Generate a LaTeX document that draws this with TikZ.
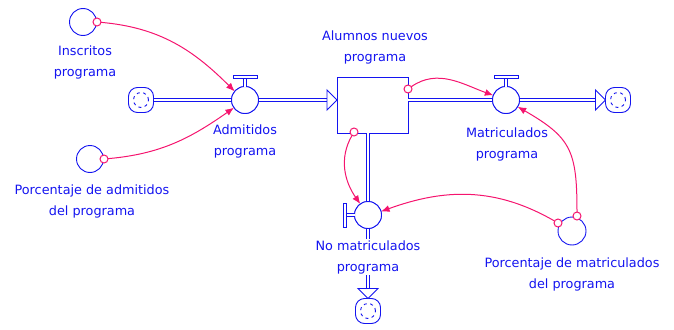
\documentclass[tikz,border=0pt]{standalone}
\usepackage{fontspec}
\setmainfont{DejaVu Sans}
\usetikzlibrary{arrows.meta,calc}
\definecolor{vblue}{RGB}{20,20,240}
\definecolor{vpink}{RGB}{245,20,110}
\begin{document}
\begin{tikzpicture}[x=1pt,y=-1pt,
 every node/.style={inner sep=0pt, outer sep=0pt},
 aux/.style={circle, draw=vblue, line width=0.9pt, minimum size=27pt, fill=white},
 valvec/.style={circle, draw=vblue, line width=0.9pt, minimum size=27pt, fill=white},
 dot/.style={circle, draw=vpink, line width=1pt, minimum size=8pt, fill=white},
 lbl/.style={text=vblue, align=center, font=\fontsize{12.8}{21}\selectfont},
 stockbox/.style={rectangle, draw=vblue, line width=0.9pt, minimum width=71pt, minimum height=56pt, fill=white},
 pipe/.style={draw=vblue, double=white, double distance=2.2pt, line width=0.8pt},
 flowhead/.style={draw=vblue, line width=0.9pt, fill=white, line join=miter},
 bar/.style={draw=vblue, line width=0.9pt, fill=white},
 link/.style={draw=vpink, line width=1pt, -{Latex[length=8.5pt,width=7pt]}},
 cloudbox/.style={rectangle, rounded corners=9pt, draw=vblue, line width=0.9pt, minimum size=25pt, fill=white,
   path picture={\draw[vblue, line width=0.9pt, dash pattern=on 3pt off 3.5pt] (path picture bounding box.center) circle (7.5pt);}}
]
\useasboundingbox (0,0) rectangle (674,329);

% auxiliaries
\node[aux] (ins) at (83,22) {};
\node[aux] (pad) at (90,159) {};
\node[aux, minimum size=28pt] (pm) at (572,231) {};

% stock
\node[stockbox] (stock) at (372.5,105) {};
\coordinate (sw) at (337,100);
\coordinate (se) at (408,100);
\coordinate (ss) at (368,133);

% clouds
\node[cloudbox] (c1) at (141,100) {};
\node[cloudbox] (c2) at (618,100) {};
\node[cloudbox] (c3) at (368,311) {};

% valves
\node[valvec] (v1) at (245,100) {};
\node[valvec] (v2) at (506,100) {};
\node[valvec] (v3) at (368,215) {};

% flow tips
\coordinate (t1) at ($(sw)+(-10,0)$);
\coordinate (t2) at ($(c2.west)+(-10,0)$);
\coordinate (t3) at ($(c3.north)+(0,-10)$);

% pipes
\draw[pipe] (c1.east) -- (v1.west);
\draw[pipe] (v1.east) -- (t1);
\draw[pipe] (se) -- (v2.west);
\draw[pipe] (v2.east) -- (t2);
\draw[pipe] (ss) -- (v3.north);
\draw[pipe] (v3.south) -- (t3);

% flow arrowheads
\draw[flowhead] ($(t1)+(0,-10)$) -- (sw) -- ($(t1)+(0,10)$) -- cycle;
\draw[flowhead] ($(t2)+(0,-10)$) -- (c2.west) -- ($(t2)+(0,10)$) -- cycle;
\draw[flowhead] ($(t3)+(-10,0)$) -- (c3.north) -- ($(t3)+(10,0)$) -- cycle;

% redraw valves on top of pipes
\node[valvec] at (v1) {};
\node[valvec] at (v2) {};
\node[valvec] at (v3) {};

% valve handles
\draw[pipe] (v1.north) -- ++(0,-8);
\draw[bar] ($(v1.north)+(-12,-8)$) rectangle ++(24,-3);
\draw[pipe] (v2.north) -- ++(0,-8);
\draw[bar] ($(v2.north)+(-12,-8)$) rectangle ++(24,-3);
\draw[pipe] (v3.west) -- ++(-8,0);
\draw[bar] ($(v3.west)+(-8,-12)$) rectangle ++(-3,24);

% labels
\node[lbl] (lins) at (85,62) {Inscritos\\programa};
\node[lbl] (lv1) at (245,141) {Admitidos\\programa};
\node[lbl] (lstock) at (375,47) {Alumnos nuevos\\programa};
\node[lbl] (lv2) at (507,144) {Matriculados\\programa};
\node[lbl, fill=white, inner sep=1pt] (lv3) at (368,257) {No matriculados\\programa};
\node[lbl] (lpm) at (572,274) {Porcentaje de matriculados\\del programa};
\node[lbl] (lpad) at (92,201) {Porcentaje de admitidos\\del programa};

% dots
\node[dot] (insd) at (97,22) {};
\node[dot] (padd) at (104,159) {};
\node[dot] (bd1) at (408,89) {};
\node[dot] (bd2) at (354,132) {};
\node[dot] (pd1) at (558,223) {};
\node[dot] (pd2) at (577,216) {};

% links
\draw[link] (insd) to[out=-5,in=135] (v1.140);
\draw[link] (padd) to[out=5,in=-145] (v1.-145);
\draw[link] (bd1) to[out=35,in=160] (v2.160);
\draw[link] (bd2) to[out=-120,in=125] (v3.125);
\draw[link] (pd1) to[out=150,in=20] (v3.15);
\draw[link] (pd2) to[out=90,in=-30,looseness=1.3] (v2.-30);
\end{tikzpicture}
\end{document}
